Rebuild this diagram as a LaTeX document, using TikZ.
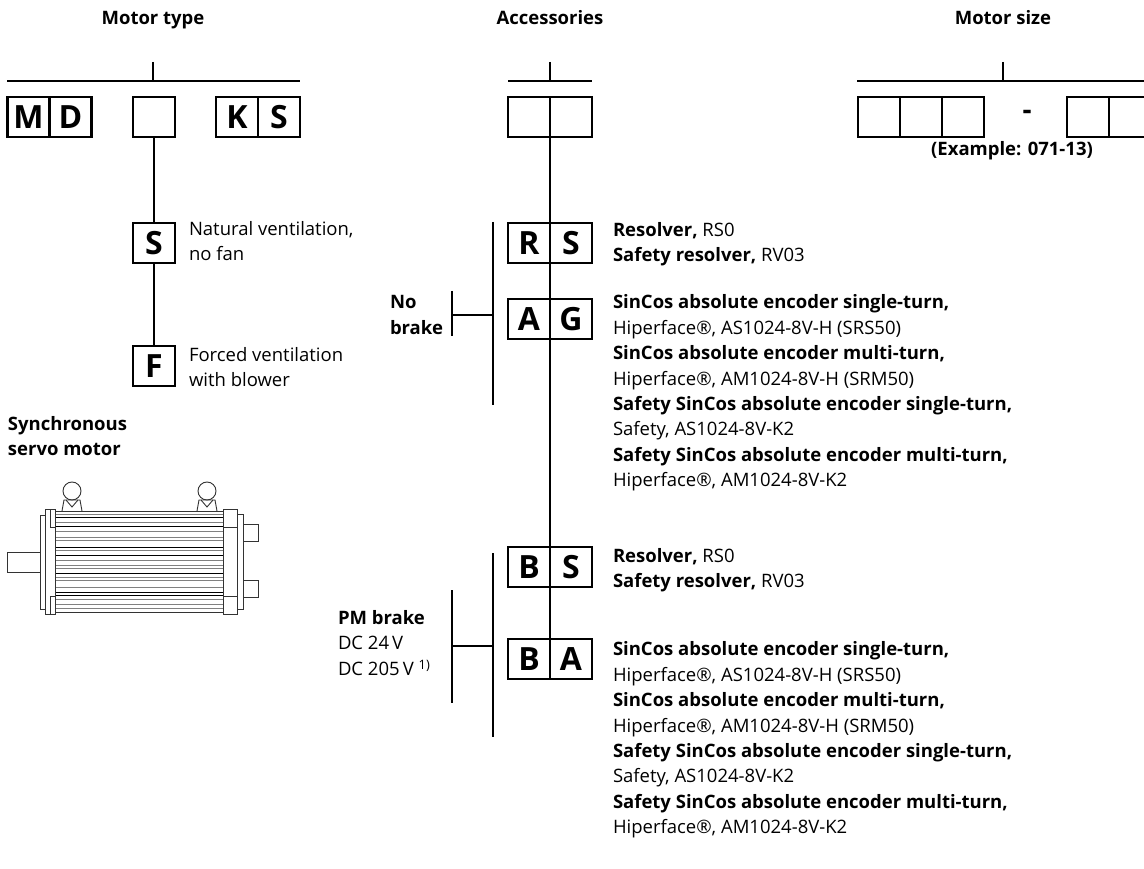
\documentclass[tikz,border=0pt]{standalone}
\usepackage{fontspec}
\setmainfont{Open Sans}
\usetikzlibrary{positioning}

\begin{document}
\begin{tikzpicture}[x=1pt,y=-1pt,line width=2pt,
    cell/.style={draw,line width=2.6pt,minimum width=42pt,minimum height=40pt,
      inner sep=0pt,outer sep=0pt,font=\fontsize{32}{32}\selectfont\bfseries},
    txt/.style={anchor=west,align=left,inner sep=0pt,font=\fontsize{18.5}{25.4}\selectfont},
    btxt/.style={txt,font=\fontsize{18.5}{25.4}\selectfont\bfseries},
    head/.style={anchor=base,inner sep=0pt,font=\fontsize{18.5}{20}\selectfont\bfseries}]
  \useasboundingbox (0,0) rectangle (1144,869);
  \clip (0,0) rectangle (1144,869);

  % headings
  \node[head] (ttype) at (153,25) {Motor type};
  \node[head] (tacc) at (550,25) {Accessories};
  \node[head] (tsize) at (1003,25) {Motor size};

  % motor type
  \draw (7,81) -- (300,81) (153,62) -- (153,81);
  \node[cell] (m) at (28.5,117) {M};
  \node[cell] (d) [right=0pt of m] {D};
  \node[cell] (vent) at (154,117) {};
  \node[cell] (k) at (237,117) {K};
  \node[cell] (ks) [right=0pt of k] {S};
  \node[cell] (sv) at (154,243) {S};
  \node[cell] (fv) at (154,366) {F};
  \draw (vent) -- (sv);
  \draw (sv) -- (fv);
  \node[txt] (svtext) at (188,241) {Natural ventilation,\\no fan};
  \node[txt] (fvtext) at (188,367) {Forced ventilation\\with blower};
  \node[btxt] (motor) at (7,436) {Synchronous\\servo motor};

  % motor picture
  \begin{scope}[line width=0.9pt,draw=black!80]
    \draw (40,552) -- (7,552) -- (7,572) -- (40,572);
    \draw (40,515) rectangle (45,609);
    \draw (45,509) rectangle (55,614);
    \draw (50,509) -- (50,527) -- (55,527) (50,614) -- (50,596) -- (55,596);
    \foreach \y/\c in {514/gray,517/black,522/gray,526/black,531/gray,537/gray,540/gray,
        547/black,550/gray,555/black,560/gray,565/gray,568/gray,573/black,577/gray,
        580/gray,587/gray,592/black,595/black,599/gray,604/gray,608/gray}
      \draw[\c,line width=0.9pt] (55,\y) -- (223,\y);
    \draw (55,511) rectangle (223,612);
    \draw (223,509) rectangle (237,614);
    \draw (223,527) -- (237,527) (223,596) -- (237,596);
    \draw (237,514) rectangle (243,609);
    \draw (243,524) rectangle (258,541) (243,580) rectangle (258,597);
    \foreach \ex in {72,207} {
      \draw (\ex,491) circle (9);
      \draw (\ex-10,511) -- (\ex-8,500) -- (\ex+8,500) -- (\ex+10,511);
      \draw (\ex-6,500) -- (\ex,507) -- (\ex+6,500);
    }
  \end{scope}

  % accessories
  \draw (508,81) -- (592,81) (550,62) -- (550,81);
  \node[cell] (a1) at (529,117) {};
  \node[cell] (a2) [right=0pt of a1] {};
  \node[cell] (rs1) at (529,243) {R};
  \node[cell] (rs2) [right=0pt of rs1] {S};
  \node[cell] (ag1) at (529,319) {A};
  \node[cell] (ag2) [right=0pt of ag1] {G};
  \node[cell] (bs1) at (529,567) {B};
  \node[cell] (bs2) [right=0pt of bs1] {S};
  \node[cell] (ba1) at (529,659) {B};
  \node[cell] (ba2) [right=0pt of ba1] {A};
  \draw (a1.south east) -- (ba1.north east);

  % brake brackets
  \draw (493,222) -- (493,405) (452,315) -- (493,315) (452,291) -- (452,336);
  \node[btxt] (nobrake) at (389,315) {No\\brake};
  \draw (493,553) -- (493,737) (452,646) -- (493,646) (452,590) -- (452,703);
  \node[txt] (pmbrake) at (337,643) {\textbf{PM brake}\\DC 24\,V\\DC 205\,V \textsuperscript{1)}};

  % accessory texts
  \node[txt] (rstext) at (612,244) {\textbf{Resolver,} RS0\\\textbf{Safety resolver,} RV03};
  \node[txt] (agtext) at (612,393) {\textbf{SinCos absolute encoder single-turn,}\\
    Hiperface®, AS1024-8V-H (SRS50)\\
    \textbf{SinCos absolute encoder multi-turn,}\\
    Hiperface®, AM1024-8V-H (SRM50)\\
    \textbf{Safety SinCos absolute encoder single-turn,}\\
    Safety, AS1024-8V-K2\\
    \textbf{Safety SinCos absolute encoder multi-turn,}\\
    Hiperface®, AM1024-8V-K2};
  \node[txt] (bstext) at (612,570) {\textbf{Resolver,} RS0\\\textbf{Safety resolver,} RV03};
  \node[txt] (batext) at (612,740) {\textbf{SinCos absolute encoder single-turn,}\\
    Hiperface®, AS1024-8V-H (SRS50)\\
    \textbf{SinCos absolute encoder multi-turn,}\\
    Hiperface®, AM1024-8V-H (SRM50)\\
    \textbf{Safety SinCos absolute encoder single-turn,}\\
    Safety, AS1024-8V-K2\\
    \textbf{Safety SinCos absolute encoder multi-turn,}\\
    Hiperface®, AM1024-8V-K2};

  % motor size
  \draw (857,81) -- (1144,81) (1003,62) -- (1003,81);
  \node[cell] (z1) at (879,117) {};
  \node[cell] (z2) [right=0pt of z1] {};
  \node[cell] (z3) [right=0pt of z2] {};
  \node[font=\fontsize{28}{28}\selectfont\bfseries] (dash) at (1027,115) {-};
  \node[cell] (z4) at (1088,117) {};
  \node[cell] (z5) [right=0pt of z4] {};
  \node[cell] (z6) [right=0pt of z5] {};
  \node[head] (example) at (1012,156) {(Example: 071-13)};
\end{tikzpicture}
\end{document}
